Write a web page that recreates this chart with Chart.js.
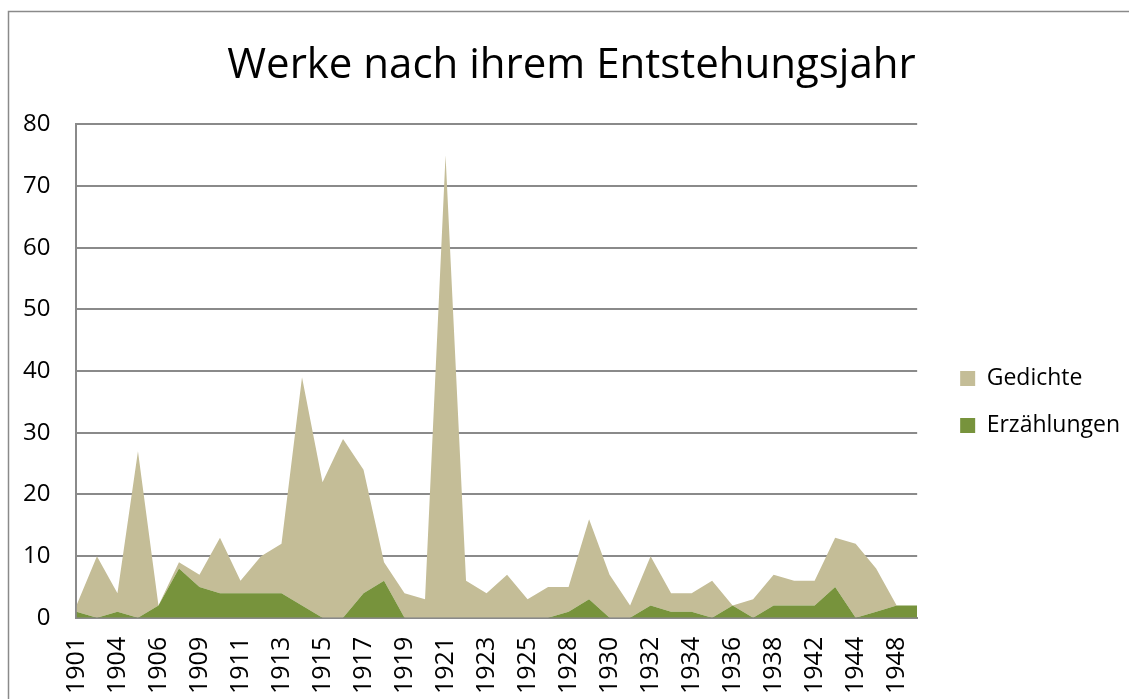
<!DOCTYPE html>
<html>
<head>
<meta charset="utf-8">
<script src="https://cdn.jsdelivr.net/npm/chart.js@4"></script>
<style>
  body { margin: 0; background: #fff; }
</style>
</head>
<body>
<canvas id="werke--chart" width="1129" height="699"></canvas>
<script>
'use strict'

const years = ['1901', '1903', '1904', '1905', '1906', '1908', '1909', '1910', '1911', '1912',
    '1913', '1914', '1915', '1916', '1917', '1918', '1919', '1920', '1921', '1922',
    '1923', '1924', '1925', '1927', '1928', '1929', '1930', '1931', '1932', '1933',
    '1934', '1935', '1936', '1937', '1938', '1940', '1942', '1943', '1944', '1946',
    '1948', '1949'];

const erzaehlungen = [1, 0, 1, 0, 2, 8, 5, 4, 4, 4, 4, 2, 0, 0, 4, 6, 0, 0, 0, 0,
    0, 0, 0, 0, 1, 3, 0, 0, 2, 1, 1, 0, 2, 0, 2, 2, 2, 5, 0, 1, 2, 2];

const gedichte = [1, 10, 3, 27, 0, 1, 2, 9, 2, 6, 8, 37, 22, 29, 20, 3, 4, 3, 75, 6,
    4, 7, 3, 5, 4, 13, 7, 2, 8, 3, 3, 6, 0, 3, 5, 4, 4, 8, 12, 7, 0, 0];

const yTicks = [0, 10, 20, 30, 40, 50, 60, 70, 80];

const FONT = "'Open Sans', sans-serif";

// grey frame around the chart (only left and top edge are visible)
const frame = {
    id: 'frame',
    beforeDraw(chart) {
        const ctx = chart.ctx;
        ctx.save();
        ctx.fillStyle = '#fff';
        ctx.fillRect(0, 0, chart.width, chart.height);
        ctx.strokeStyle = '#8a8a8a';
        ctx.lineWidth = 1.5;
        ctx.beginPath();
        ctx.moveTo(8.5, chart.height);
        ctx.lineTo(8.5, 11.5);
        ctx.lineTo(chart.width, 11.5);
        ctx.stroke();
        ctx.restore();
    }
}

// title sits a little right of the canvas centre
const titleShift = {
    id: 'titleShift',
    afterLayout(chart) {
        const t = chart.titleBlock;
        if (t) {
            t.left += 11;
            t.right += 11;
        }
    }
}

const config = {
    type: 'line',
    data: {
        labels: years,
        datasets: [
            {
                label: 'Erzählungen',
                data: erzaehlungen,
                backgroundColor: '#77933C',
                borderColor: '#77933C',
                borderWidth: 0,
                pointRadius: 0,
                fill: 'origin',
                tension: 0
            },
            {
                label: 'Gedichte',
                data: gedichte,
                backgroundColor: '#C4BD97',
                borderColor: '#C4BD97',
                borderWidth: 0,
                pointRadius: 0,
                fill: '-1',
                tension: 0
            }
        ]
    },
    options: {
        responsive: false,
        animation: false,
        layout: {
            padding: { left: -3, right: 5, top: 0, bottom: -14 }
        },
        plugins: {
            title: {
                display: true,
                text: 'Werke nach ihrem Entstehungsjahr',
                color: '#000',
                font: { family: FONT, size: 42, weight: 'normal' },
                padding: { top: 41, bottom: 33 }
            },
            legend: {
                position: 'right',
                reverse: true,
                // empty title only pushes the entries down a bit
                title: {
                    display: true,
                    text: ' ',
                    font: { size: 10 },
                    padding: { top: 79, bottom: 0 }
                },
                labels: {
                    color: '#000',
                    font: { family: FONT, size: 23 },
                    boxWidth: 15,
                    boxHeight: 15,
                    padding: 24
                }
            },
            tooltip: { enabled: false }
        },
        scales: {
            x: {
                offset: false,
                grid: { display: false, drawTicks: false },
                border: { color: '#8a8a8a', width: 2 },
                ticks: {
                    autoSkip: false,
                    minRotation: 90,
                    maxRotation: 90,
                    padding: 19,
                    color: '#000',
                    font: { family: FONT, size: 25 },
                    callback: function(value, index) {
                        return index % 2 === 0 ? this.getLabelForValue(value) : '';
                    }
                }
            },
            y: {
                stacked: true,
                min: yTicks[0],
                max: yTicks[yTicks.length - 1],
                grid: { color: '#8a8a8a', lineWidth: 2, drawTicks: false },
                border: { color: '#8a8a8a', width: 2 },
                ticks: {
                    stepSize: 10,
                    padding: 26,
                    color: '#000',
                    font: { family: FONT, size: 24 }
                }
            },
            // keeps a small gap between plot area and legend
            gap: {
                type: 'linear',
                position: 'right',
                grid: { display: false },
                border: { display: false },
                ticks: { display: false },
                afterFit: function(scale) { scale.width = 19; }
            }
        }
    },
    plugins: [frame, titleShift]
}

document.addEventListener('DOMContentLoaded', function() {
    new Chart(document.getElementById('werke--chart').getContext('2d'), config)
});
</script>
</body>
</html>
